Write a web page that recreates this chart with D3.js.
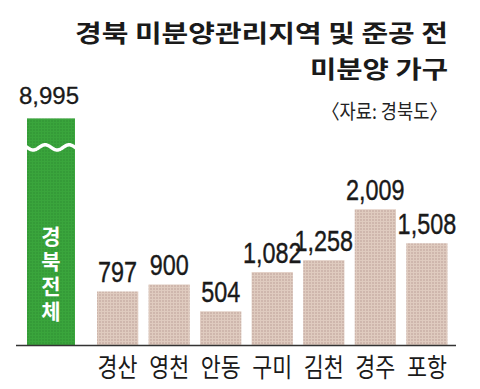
<!DOCTYPE html>
<html><head><meta charset="utf-8">
<script src="https://cdn.jsdelivr.net/npm/d3@7"></script>
<style>
html,body{margin:0;padding:0;background:#fff;}
svg{display:block;}
</style></head>
<body>
<svg id="chart" width="480" height="389"></svg>
<script>
const categories = ["경산", "영천", "안동", "구미", "김천", "경주", "포항"];
const values = [797, 900, 504, 1082, 1258, 2009, 1508];
const totalCategory = ["경북전체"];
const totalValues = [8995];
const titleLines = ["경북 미분양관리지역 및 준공 전", "미분양 가구"];
const sourceText = "〈자료: 경북도〉";
const breakCap = 3350; // drawn height of the broken total bar

const svg = d3.select("#chart");
const defs = svg.append("defs");
const pat = defs.append("pattern").attr("id","dots").attr("patternUnits","userSpaceOnUse")
  .attr("width",3).attr("height",3);
pat.append("rect").attr("width",3).attr("height",3).attr("fill","#dfcbbf");
pat.append("circle").attr("cx",1).attr("cy",1).attr("r",0.8).attr("fill","#bb9f97");
const gpat = defs.append("pattern").attr("id","gdots").attr("patternUnits","userSpaceOnUse")
  .attr("width",3).attr("height",3);
gpat.append("rect").attr("width",3).attr("height",3).attr("fill","#3aa53c");
gpat.append("circle").attr("cx",1).attr("cy",1).attr("r",0.8).attr("fill","#2f8f33");

const x = d3.scaleBand().domain(categories).range([97, 447.5]).paddingInner(0.2).paddingOuter(0);
const xt = d3.scaleBand().domain(totalCategory).range([27, 75]).padding(0);
const y = d3.scaleLinear().domain([0, 2009]).range([345.5, 209.3]);

// Title
const tl = [{t: titleLines[0], x0: 75, base: 42}, {t: titleLines[1], x0: 310, base: 78}];
svg.selectAll("text.title").data(tl).enter().append("text")
  .attr("class","title")
  .attr("x", 448).attr("y", d => d.base)
  .attr("text-anchor","end")
  .attr("textLength", d => 448 - d.x0)
  .attr("lengthAdjust","spacingAndGlyphs")
  .style("font-family","'Noto Sans CJK KR'")
  .style("font-weight","700")
  .style("font-size","24px")
  .style("fill","#1a1a1a")
  .text(d => d.t);

svg.append("text")
  .attr("x", 447).attr("y", 119)
  .attr("text-anchor","end")
  .attr("textLength", 125)
  .attr("lengthAdjust","spacingAndGlyphs")
  .style("font-family","'Noto Sans CJK KR'")
  .style("font-size","20px")
  .style("fill","#222")
  .text(sourceText);

// Category bars
svg.selectAll("rect.bar").data(values).enter().append("rect")
  .attr("class","bar")
  .attr("x", (d,i) => x(categories[i]))
  .attr("width", x.bandwidth())
  .attr("y", d => y(d))
  .attr("height", d => y(0) - y(d))
  .attr("fill","url(#dots)");

// Value labels
const fmt = d3.format(",");
svg.selectAll("text.val").data(values).enter().append("text")
  .attr("class","val")
  .attr("transform", (d,i) => `translate(${x(categories[i]) + x.bandwidth()/2},${y(d) - 9}) scale(0.78,1)`)
  .attr("text-anchor","middle")
  .style("font-family","'Liberation Sans Narrow','Arial Narrow',sans-serif")
  .style("font-size","30px")
  .style("stroke","#1a1a1a").style("stroke-width","0.4px")
  .style("fill","#1a1a1a")
  .text(d => fmt(d));

// Total bar (broken)
const tv = totalValues.map(v => Math.min(v, breakCap));
svg.selectAll("rect.total").data(tv).enter().append("rect")
  .attr("class","total")
  .attr("x", (d,i) => xt(totalCategory[i]))
  .attr("width", xt.bandwidth())
  .attr("y", d => y(d))
  .attr("height", d => y(0) - y(d))
  .attr("fill","url(#gdots)");

// wave break
const wx0 = xt(totalCategory[0]) - 1, wx1 = wx0 + xt.bandwidth() + 2;
const wy = y(breakCap) + 29;
const wave = d3.range(wx0, wx1 + 0.5, 0.5).map(px => [px, wy + 2.6 * Math.sin((px - wx0) / 24 * 2 * Math.PI - 0.3)]);
svg.append("path").attr("d", d3.line()(wave))
  .attr("fill","none").attr("stroke","#fff").attr("stroke-width",3.5);

svg.selectAll("text.tval").data(totalValues).enter().append("text")
  .attr("class","tval")
  .attr("x", (d,i) => xt(totalCategory[i]) + xt.bandwidth()/2 - 2)
  .attr("y", 104)
  .attr("text-anchor","middle")
  .style("font-family","'Liberation Sans',Arial,sans-serif")
  .style("font-size","24px")
  .style("stroke","#1a1a1a").style("stroke-width","0.3px")
  .style("fill","#1a1a1a")
  .text(d => fmt(d));

// vertical label inside the green bar (single vertical text)
svg.selectAll("text.vlab").data(totalCategory).enter().append("text")
  .attr("class","vlab")
  .attr("x", d => xt(d) + xt.bandwidth()/2)
  .attr("y", 226)
  .style("writing-mode","vertical-rl")
  .style("text-orientation","upright")
  .style("letter-spacing","4px")
  .style("font-family","'Noto Sans CJK KR'")
  .style("font-weight","700")
  .style("font-size","21px")
  .style("fill","#fff")
  .text(d => d);

// baseline
svg.append("line").attr("x1",16).attr("x2",456).attr("y1",y(0)).attr("y2",y(0))
  .attr("stroke","#333").attr("stroke-width",1.5);

// category axis
const ax = svg.append("g").attr("transform",`translate(0,${y(0)})`)
  .call(d3.axisBottom(x).tickSize(0).tickPadding(0));
ax.select(".domain").remove();
ax.selectAll("text")
  .attr("y", 31).attr("dy", 0)
  .attr("textLength", 40)
  .attr("lengthAdjust","spacingAndGlyphs")
  .style("font-family","'Noto Sans CJK KR'")
  .style("font-size","26px")
  .style("fill","#1a1a1a");
</script>
</body></html>
